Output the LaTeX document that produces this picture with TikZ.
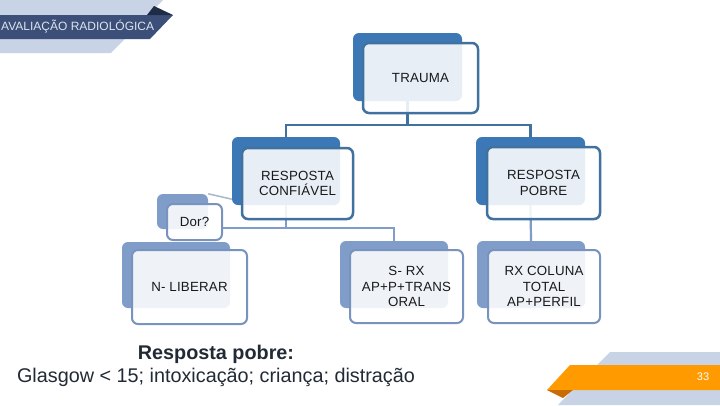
\documentclass[tikz,border=0pt]{standalone}
\usepackage{fontspec}
\setmainfont{Liberation Sans}
\newfontfamily\boxfont[LetterSpace=1.5]{Liberation Sans}
\usetikzlibrary{calc}
\definecolor{hdrdark}{HTML}{3B4F78}
\definecolor{hdrfold}{HTML}{1F2C48}
\definecolor{hdrtext}{HTML}{DDE3EE}
\definecolor{bandlight}{HTML}{C8D3E6}
\definecolor{blueA}{HTML}{3C78B5}
\definecolor{blueAline}{HTML}{41729F}
\definecolor{blueB}{HTML}{7F9DC8}
\definecolor{blueBline}{HTML}{7893BE}
\definecolor{faintline}{HTML}{A9B7C9}
\definecolor{orng}{HTML}{FF9A00}
\definecolor{orngdark}{HTML}{C76C06}
\definecolor{txtdark}{HTML}{222A36}
\begin{document}
\begin{tikzpicture}[x=1pt,y=-1pt,
  backA/.style={rectangle, rounded corners=6pt, fill=blueA, inner sep=0pt},
  backB/.style={backA, fill=blueB},
  frontA/.style={rectangle, rounded corners=6pt, draw=blueAline, line width=2.5pt,
    fill=white, fill opacity=0.88, text opacity=1, inner sep=0pt, align=center,
    font=\boxfont\fontsize{13.3}{15.5}\selectfont, text=black!90},
  frontB/.style={frontA, draw=blueBline, line width=2pt},
  connA/.style={draw=blueAline, line width=2.5pt},
  connB/.style={draw=blueB, line width=2.2pt},
]
\useasboundingbox (0,0) rectangle (720,405);
\fill[white] (0,0) rectangle (720,405);

% header
\fill[bandlight] (0,0) -- (163,0) -- (111,53) -- (0,53) -- cycle;
\fill[hdrdark] (0,15) -- (173,15) -- (150,39) -- (0,39) -- cycle;
\fill[hdrfold] (147,15) -- (154,6) -- (173,15) -- cycle;
\node[anchor=west, inner sep=0pt, text=hdrtext, font=\fontsize{12}{14}\selectfont] (hdr) at (1,27) {AVALIAÇÃO RADIOLÓGICA};

% footer band
\fill[bandlight] (610,352) -- (720,352) -- (720,405) -- (558,405) -- cycle;
\fill[orng] (570,365) -- (720,365) -- (720,390) -- (547,390) -- cycle;
\fill[orngdark] (547,390) -- (573,390) -- (563,398) -- cycle;
\node[text=white, inner sep=0pt, font=\fontsize{11}{13}\selectfont] (pg) at (703,377) {33};

% back shapes
\node[backA, minimum width=109pt, minimum height=68pt] (traumaB) at (407.5,67) {};
\node[backA, minimum width=108pt, minimum height=68pt] (confB) at (286,171) {};
\node[backA, minimum width=109pt, minimum height=68pt] (pobreB) at (530.5,171) {};
\node[backB, minimum width=51pt, minimum height=35pt] (dorB) at (182.5,211.5) {};
\node[backB, minimum width=108pt, minimum height=66pt] (nlibB) at (176,275) {};
\node[backB, minimum width=108pt, minimum height=67pt] (srxB) at (394,274.5) {};
\node[backB, minimum width=108pt, minimum height=67pt] (rxcB) at (531,274.5) {};

% connectors
\coordinate (busA) at (0,125);
\coordinate (busB) at (0,228);
\draw[connA] (traumaB.south) -- (traumaB.south |- busA) -| (confB.north);
\draw[connA] (traumaB.south |- busA) -| (pobreB.north);
\draw[connB] (confB.south) -- (confB.south |- busB);
\draw[connB] (pobreB.south) -- (rxcB.north);
\draw[draw=faintline, line width=1.5pt] (dorB.north east) -- ($(confB.south west)+(0,-6)$);

% front shapes
\node[frontA, minimum width=115pt, minimum height=70pt] (trauma) at (420.5,78) {TRAUMA};
\node[frontA, minimum width=111pt, minimum height=71pt] (conf) at (297.5,183.5) {RESPOSTA\\CONFIÁVEL};
\node[frontA, minimum width=113pt, minimum height=72pt] (pobre) at (543.5,183) {RESPOSTA\\POBRE};
\node[frontB, minimum width=55pt, minimum height=36pt] (dor) at (194.5,222) {Dor?};
\draw[connB] (dor.east |- busB) -| (srxB.north);
\node[frontB, minimum width=115pt, minimum height=74pt] (nlib) at (189.5,287) {N- LIBERAR};
\node[frontB, minimum width=113pt, minimum height=73pt] (srx) at (406.5,286.5) {S- RX\\AP+P+TRANS\\ORAL};
\node[frontB, minimum width=112pt, minimum height=73pt] (rxc) at (544,286.5) {RX COLUNA\\TOTAL\\AP+PERFIL};

% note
\node[align=center, text=txtdark, inner sep=0pt, font=\fontsize{19.8}{23}\selectfont] (note) at (216,366)
  {\textbf{Resposta pobre:}\\Glasgow < 15; intoxicação; criança; distração};
\end{tikzpicture}
\end{document}
